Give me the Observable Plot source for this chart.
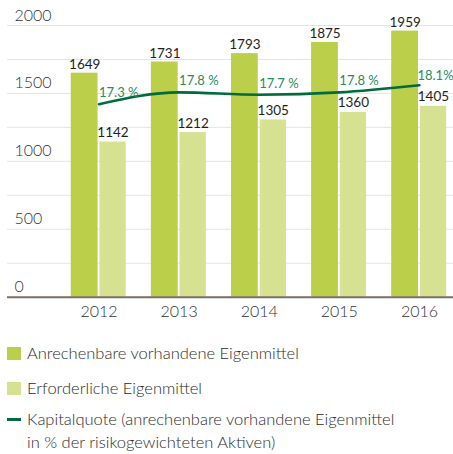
<!DOCTYPE html>
<html>
<head>
<meta charset="utf-8">
<script src="https://cdn.jsdelivr.net/npm/d3@7"></script>
<script src="https://cdn.jsdelivr.net/npm/@observablehq/plot@0.6"></script>
<style>
  html, body { margin: 0; padding: 0; background: #fff; }
  body { width: 453px; height: 454px; overflow: hidden; font-family: Lato, "Open Sans", sans-serif; }
  #legend { position: relative; font-family: Lato, sans-serif; font-weight: 300; font-size: 16.5px; color: #2b2b2b; }
  .item { position: absolute; left: 27px; line-height: 23px; white-space: nowrap; }
  .sw { position: absolute; }
</style>
</head>
<body>
<div id="chart"></div>
<div id="legend"></div>
<script>
const years = ["2012", "2013", "2014", "2015", "2016"];
const available = [1649, 1731, 1793, 1875, 1959];   // Anrechenbare vorhandene Eigenmittel
const required = [1142, 1212, 1305, 1360, 1405];    // Erforderliche Eigenmittel
const ratio = [17.3, 17.8, 17.7, 17.8, 18.1];       // Kapitalquote in %
const ratioLabels = ["17.3 %", "17.8 %", "17.7 %", "17.8 %", "18.1%"];
const yTickLabels = [0, 500, 1000, 1500, 2000];
const gridTicks = [0, 250, 500, 750, 1000, 1250, 1500, 1750, 2000];

const seriesNames = [
  "Anrechenbare vorhandene Eigenmittel",
  "Erforderliche Eigenmittel",
  "Kapitalquote (anrechenbare vorhandene Eigenmittel<br>in % der risikogewichteten Aktiven)"
];
const colors = { dark: "#bccf4b", light: "#d6e292", line: "#006b3c", pct: "#2a8a5c" };

const data = years.map((y, i) => ({ year: y, avail: available[i], req: required[i], pct: ratio[i], pctLabel: ratioLabels[i] }));
// secondary (percent) axis mapped onto primary value axis
const pctToY = p => -1603.5 + 174.8 * p;

const font = "Lato, sans-serif";
const lastYear = years[years.length - 1];

const chart = Plot.plot({
  width: 453,
  height: 325,
  marginLeft: 7,
  marginRight: 0,
  marginTop: 25,
  marginBottom: 28.3,
  style: { fontFamily: font, background: "#fff", overflow: "visible" },
  x: { type: "band", domain: years, range: [58.45, 459.0], padding: 0, round: false, axis: null, label: null },
  y: { domain: [0, 2000], axis: null, label: null },
  marks: [
    Plot.ruleY(gridTicks, { stroke: "#e4e4e4", strokeWidth: 1 }),
    Plot.barY(data, { x: "year", y1: 0, y2: "avail", fill: colors.dark, insetLeft: 12.3, insetRight: 41 }),
    Plot.barY(data, { x: "year", y1: 0, y2: "req", fill: colors.light, insetLeft: 41, insetRight: 12.8 }),
    Plot.ruleY([0], { stroke: "#7a6f66", strokeWidth: 2 }),
    Plot.text(data, { x: "year", y: "avail", text: d => String(d.avail), dx: -14.3, dy: -4.5, lineAnchor: "bottom", fontSize: 13.5, fill: "#1e1e1e", fontFamily: font }),
    Plot.text(data, { x: "year", y: "req", text: d => String(d.req), dx: 14, dy: -5, lineAnchor: "bottom", fontSize: 13.5, fill: "#1e1e1e", fontFamily: font }),
    Plot.line(data, { x: "year", y: d => pctToY(d.pct), stroke: colors.line, strokeWidth: 2.6, curve: "monotone-x" }),
    Plot.text(data, { filter: d => d.year !== lastYear, x: "year", y: d => pctToY(d.pct), text: "pctLabel", textAnchor: "start", dx: 0, dy: -7, lineAnchor: "bottom", fontSize: 13, fill: colors.pct, fontFamily: font }),
    Plot.text(data, { filter: d => d.year === lastYear, x: "year", y: d => pctToY(d.pct), text: "pctLabel", textAnchor: "start", dx: -2, dy: -5, lineAnchor: "bottom", fontSize: 13, fill: colors.pct, fontFamily: font }),
    Plot.axisY(yTickLabels, { tickSize: 0, tickPadding: 0, tickFormat: d => String(d), label: null, textAnchor: "start", lineAnchor: "bottom", dy: -5, dx: 7, fontSize: 16, fontWeight: 300, fill: "#333", fontFamily: font }),
    Plot.axisX(years, { tickSize: 0, tickPadding: 8, label: null, fontSize: 16, fontWeight: 300, fill: "#333", fontFamily: font })
  ]
});
document.getElementById("chart").appendChild(chart);

const legend = document.getElementById("legend");
legend.style.height = "129px";
const items = [
  { top: 17, type: "rect", color: colors.dark },
  { top: 52, type: "rect", color: colors.light },
  { top: 83, type: "line", color: colors.line }
];
items.forEach((it, i) => {
  const sw = document.createElement("div");
  sw.className = "sw";
  sw.style.left = "7px";
  sw.style.background = it.color;
  if (it.type === "rect") {
    sw.style.top = (it.top + 5) + "px";
    sw.style.width = "14px";
    sw.style.height = "13px";
  } else {
    sw.style.top = (it.top + 10) + "px";
    sw.style.width = "14px";
    sw.style.height = "3px";
  }
  legend.appendChild(sw);
  const t = document.createElement("div");
  t.className = "item";
  t.style.top = it.top + "px";
  t.innerHTML = seriesNames[i];
  legend.appendChild(t);
});
</script>
</body>
</html>
